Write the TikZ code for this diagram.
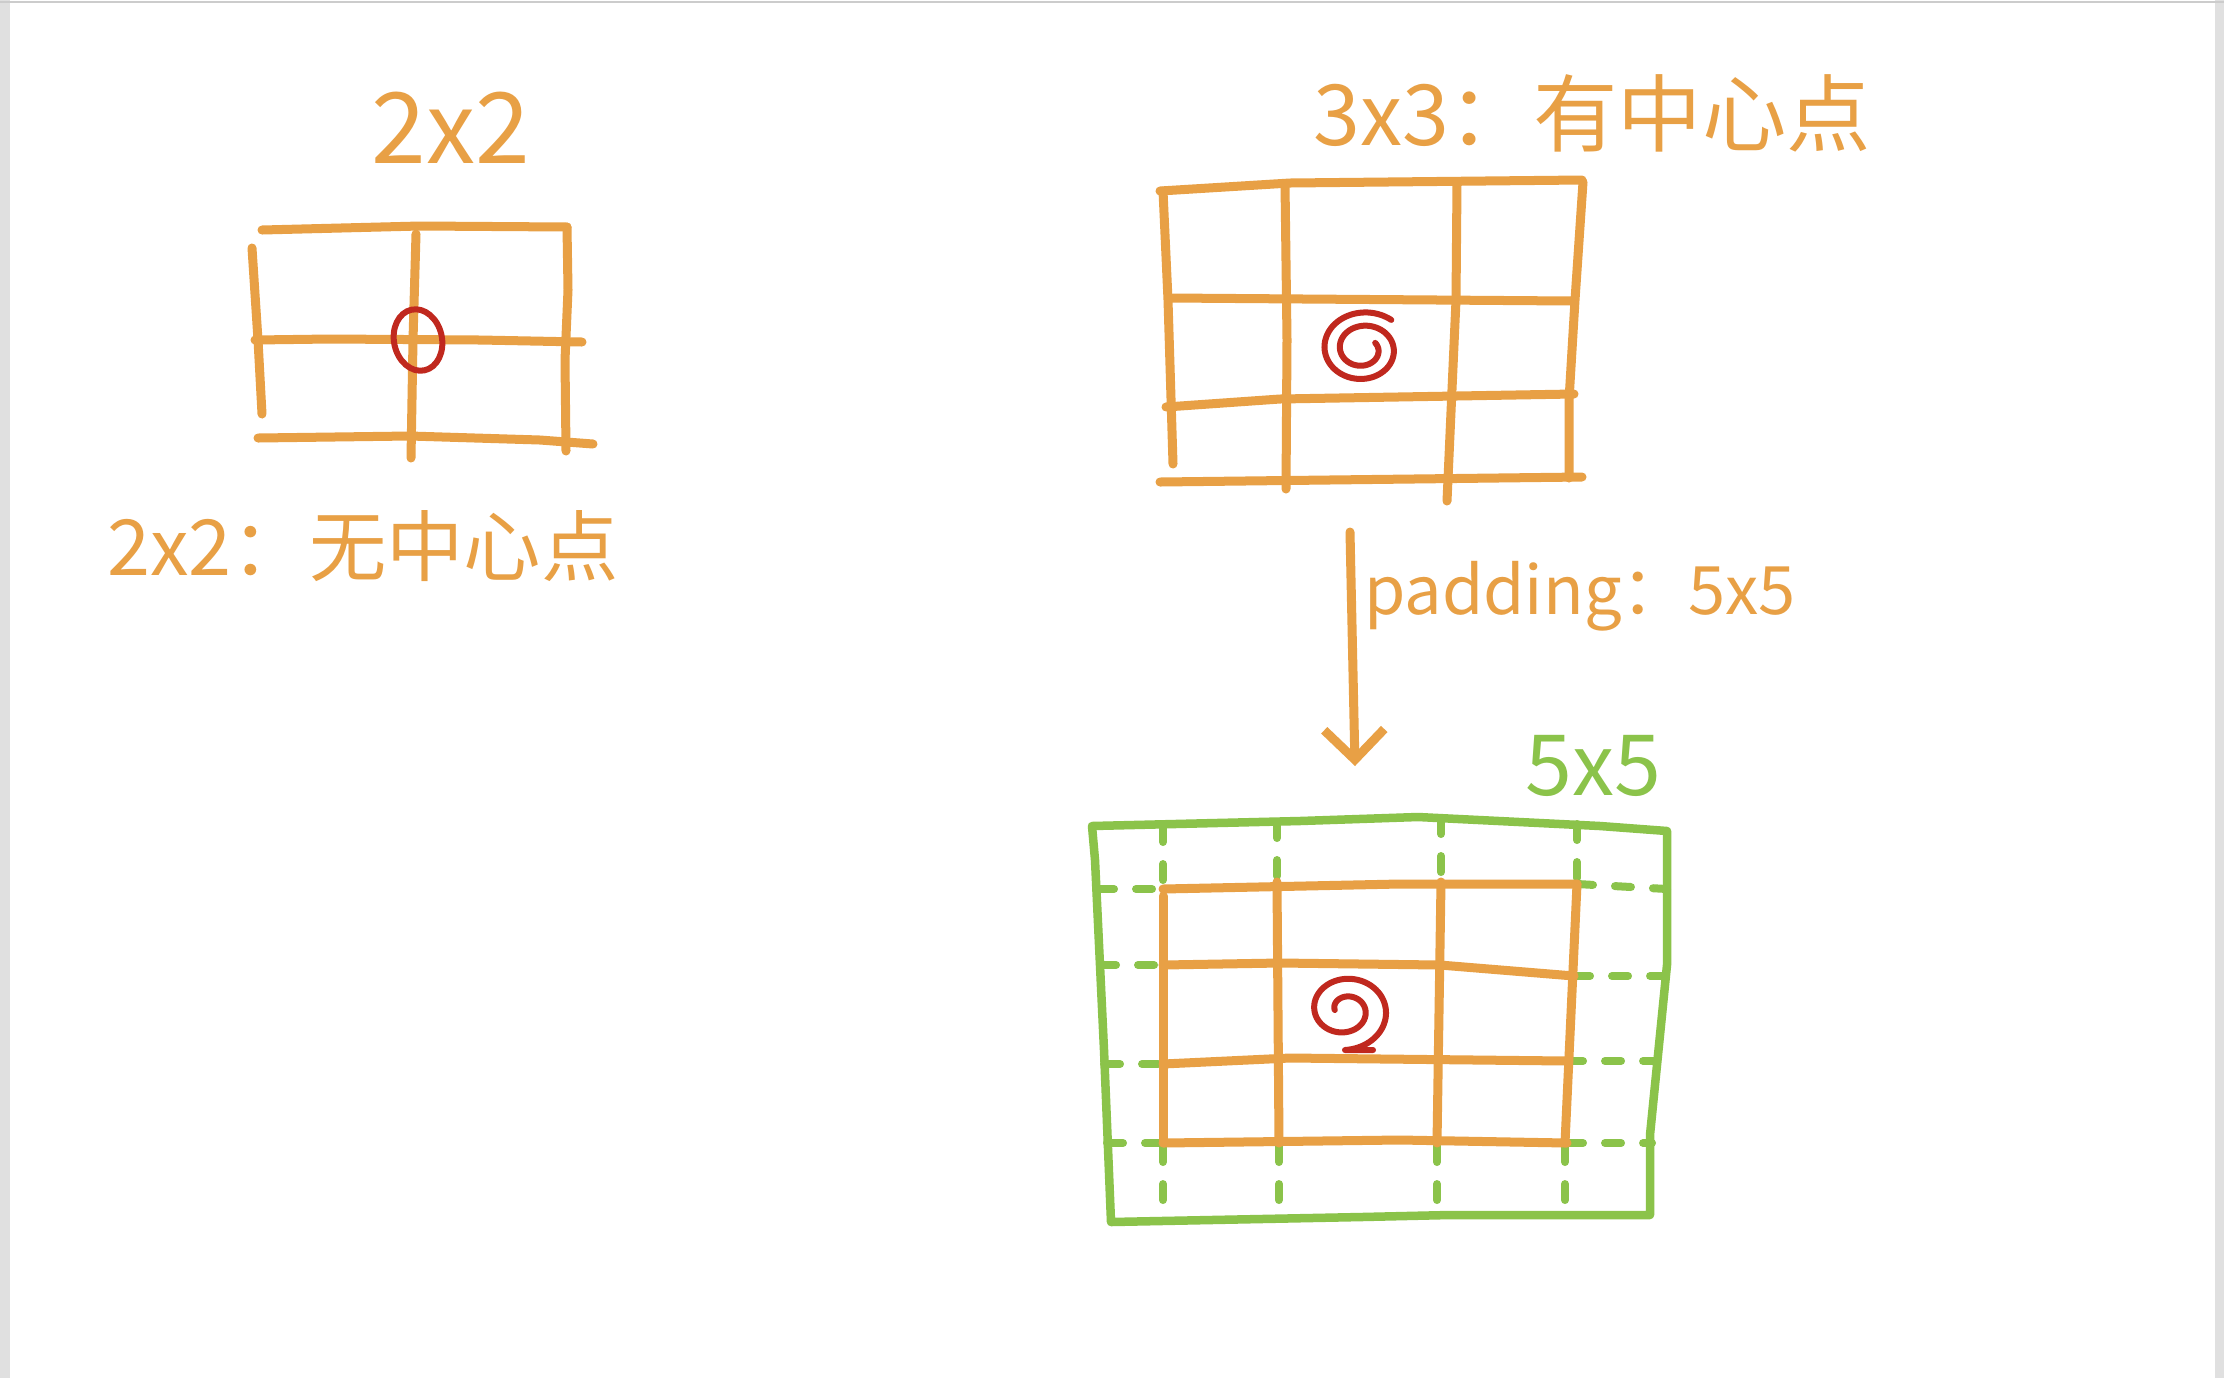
\documentclass[tikz,border=0pt]{standalone}
\usepackage{fontspec}
\setmainfont{Noto Sans CJK SC}
\usetikzlibrary{arrows.meta}
\definecolor{penorange}{RGB}{232,160,69}
\definecolor{pengreen}{RGB}{139,195,74}
\definecolor{penred}{RGB}{192,40,30}
\begin{document}
\begin{tikzpicture}[x=0.01cm,y=-0.01cm,line cap=round,line join=round,
		orangeline/.style={draw=penorange,line width=0.09cm},
		greenline/.style={draw=pengreen,line width=0.085cm},
		greendash/.style={draw=pengreen,line width=0.08cm,dash pattern=on 0.16cm off 0.22cm},
		redline/.style={draw=penred,line width=0.06cm},
		penlabel/.style={text=penorange,inner sep=0pt}]
		\useasboundingbox (0,0) rectangle (2224,1378);
		\fill[white] (0,0) rectangle (2224,1378);
		\fill[black!12] (0,0) rectangle (10,1378);
		\fill[black!12] (2215,0) rectangle (2224,1378);
		\draw[black!20,line width=0.02cm] (0,2) -- (2224,2);
		% labels
		\node[penlabel,font=\fontsize{28}{30}\selectfont] (lab22) at (451,128) {2x2};
		\node[penlabel,font=\fontsize{22}{26}\selectfont] (cap22) at (363,546) {2x2：无中心点};
		\node[penlabel,font=\fontsize{24}{28}\selectfont] (cap33) at (1592,113) {3x3：有中心点};
		\node[penlabel,font=\fontsize{19}{22}\selectfont] (padtxt) at (1580,596) {padding：5x5};
		\node[penlabel,text=pengreen,font=\fontsize{24}{28}\selectfont] (lab55) at (1593,766) {5x5};
		% 2x2 grid
		\draw[orangeline] (262,230) -- (420,226) -- (567,227);
		\draw[orangeline] (255,340) -- (330,339) -- (480,340) -- (582,342);
		\draw[orangeline] (258,438) -- (410,436) -- (540,440) -- (593,444);
		\draw[orangeline] (252,248) -- (258,340) -- (262,414);
		\draw[orangeline] (416,234) -- (413,340) -- (411,458);
		\draw[orangeline] (567,227) -- (568,290) -- (565,360) -- (566,451);
		\draw[redline,rotate around={12:(418,340)}] (418,340) ellipse [x radius=24,y radius=31];
		% 3x3 grid
		\draw[orangeline] (1160,191) -- (1290,183) -- (1582,180);
		\draw[orangeline] (1170,298) -- (1572,301);
		\draw[orangeline] (1166,407) -- (1280,399) -- (1574,394);
		\draw[orangeline] (1160,482) -- (1582,477);
		\draw[orangeline] (1163,191) -- (1168,300) -- (1173,464);
		\draw[orangeline] (1285,184) -- (1287,340) -- (1286,489);
		\draw[orangeline] (1457,182) -- (1456,300) -- (1447,501);
		\draw[orangeline] (1583,182) -- (1575,300) -- (1569,400) -- (1569,478);
		\draw[redline] plot[domain=330:1030,samples=150,smooth] ({1363+(\x/1030)*44*cos(\x)},{349+(\x/1030)*38*sin(\x)});
		% padding arrow
		\coordinate (arrtop) at (1350,532);
		\coordinate (arrtip) at (1355,766);
		\draw[orangeline,-{Straight Barb[length=0.3cm,width=0.6cm]}] (arrtop) -- (arrtip);
		% 5x5 border and dashed padding
		\draw[greenline] (1092,826) -- (1300,821) -- (1418,817) -- (1600,826) -- (1667,831)
			-- (1667,965) -- (1650,1135) -- (1650,1215) -- (1450,1215) -- (1362,1217)
			-- (1111,1222) -- (1104,1050) -- (1095,860) -- cycle;
		\draw[greendash] (1163,826) -- (1163,886);
		\draw[greendash] (1277,822) -- (1277,882);
		\draw[greendash] (1441,818) -- (1441,882);
		\draw[greendash] (1577,824) -- (1577,884);
		\draw[greendash] (1163,1146) -- (1163,1220);
		\draw[greendash] (1279,1146) -- (1279,1218);
		\draw[greendash] (1437,1146) -- (1437,1216);
		\draw[greendash] (1565,1146) -- (1565,1215);
		\draw[greendash] (1098,889) -- (1163,889);
		\draw[greendash] (1100,965) -- (1163,965);
		\draw[greendash] (1104,1064) -- (1163,1064);
		\draw[greendash] (1107,1143) -- (1163,1143);
		\draw[greendash] (1577,884) -- (1667,889);
		\draw[greendash] (1574,976) -- (1665,976);
		\draw[greendash] (1567,1061) -- (1657,1061);
		\draw[greendash] (1567,1143) -- (1652,1143);
		% inner 3x3 grid
		\draw[orangeline] (1163,889) -- (1400,884) -- (1577,884);
		\draw[orangeline] (1163,965) -- (1280,963) -- (1440,965) -- (1574,976);
		\draw[orangeline] (1163,1064) -- (1290,1058) -- (1567,1061);
		\draw[orangeline] (1163,1143) -- (1400,1140) -- (1567,1143);
		\draw[orangeline] (1163,896) -- (1163,1142);
		\draw[orangeline] (1277,882) -- (1279,1143);
		\draw[orangeline] (1441,882) -- (1437,1143);
		\draw[orangeline] (1577,884) -- (1565,1143);
		\draw[redline] plot[domain=180:810,samples=150,smooth] ({1345+(\x/810)*46*cos(\x)},{1010+(\x/810)*40*sin(\x)}) -- (1373,1050);
	\end{tikzpicture}
\end{document}
